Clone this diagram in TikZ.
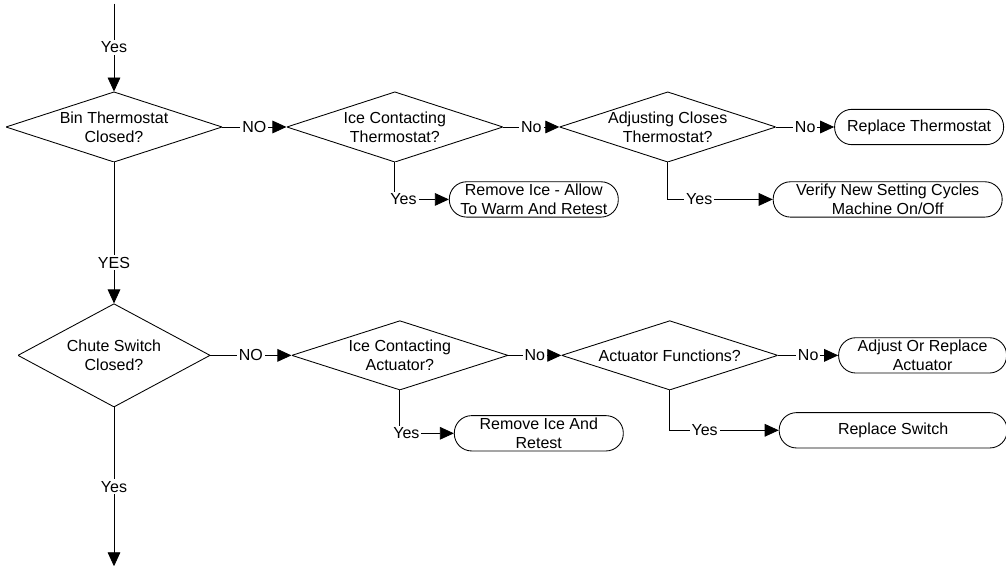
\documentclass[tikz,border=0pt]{standalone}
\usepackage{fontspec}
\setmainfont{Liberation Sans}
\usetikzlibrary{arrows.meta,positioning}

\begin{document}
\begin{tikzpicture}[line width=0.65pt, every node/.style={font=\fontsize{12}{14.5}\selectfont}, dia/.style={align=center,inner sep=0pt,minimum width=162pt,minimum height=52.5pt,path picture={\draw (path picture bounding box.north)--(path picture bounding box.east)--(path picture bounding box.south)--(path picture bounding box.west)--cycle;}}, term/.style={draw,rounded corners=13pt,align=center,inner sep=0pt,minimum height=26.5pt,minimum width=126.75pt}, lbl/.style={fill=white,inner sep=1.5pt}, >={Triangle[length=10.5pt,width=9.5pt]}]
\useasboundingbox (0,0) rectangle (754.5pt,-424.5pt);
\node[dia] (bin) at (85.5pt,-95.25pt) {Bin Thermostat\\Closed?};
\node[dia,right=48pt of bin] (ict) {Ice Contacting\\Thermostat?};
\node[dia,right=42pt of ict] (adj) {Adjusting Closes\\Thermostat?};
\node[term,right=43.5pt of adj] (rth) {Replace Thermostat};
\node[dia,below=105.75pt of bin,minimum width=144pt,minimum height=77.25pt] (chu) {Chute Switch\\Closed?};
\node[dia,right=60.75pt of chu,minimum height=51.75pt] (ica) {Ice Contacting\\Actuator?};
\node[dia,right=39.75pt of ica,minimum height=51.75pt] (act) {Actuator Functions?};
\node[term,right=45pt of act,minimum width=126pt] (adr) {Adjust Or Replace\\Actuator};
\coordinate[below=27.75pt of ict.south] (ybr1);
\node[term,right=40.5pt of ybr1] (rmv) {Remove Ice - Allow\\To Warm And Retest};
\coordinate[below=27.75pt of adj.south] (ybr2);
\node[term,right=78.75pt of ybr2,minimum width=171.75pt] (ver) {Verify New Setting Cycles\\Machine On/Off};
\coordinate[below=32.25pt of ica.south] (ybr3);
\node[term,right=40.5pt of ybr3] (rmr) {Remove Ice And\\Retest};
\coordinate[below=30pt of act.south] (ybr4);
\node[term,right=81.75pt of ybr4,minimum width=171pt] (rsw) {Replace Switch};
\coordinate[above=66pt of bin.north] (entry);
\coordinate[below=119.25pt of chu.south] (exit);
\draw[->] (entry) -- node[lbl]{Yes} (bin);
\draw[->] (bin) -- node[lbl,pos=0.71]{YES} (chu);
\draw[->] (chu) -- node[lbl]{Yes} (exit);
\foreach \a/\b/\t in {bin/ict/NO,ict/adj/No,adj/rth/No,chu/ica/NO,ica/act/No,act/adr/No} \draw[->] (\a)--node[lbl]{\t}(\b);
\foreach \a/\b/\p in {ict/rmv/0.58,adj/ver/0.65,ica/rmr/0.56,act/rsw/0.66} \draw[->] (\a.south)|-node[lbl,pos=\p]{Yes}(\b);
\end{tikzpicture}
\end{document}
